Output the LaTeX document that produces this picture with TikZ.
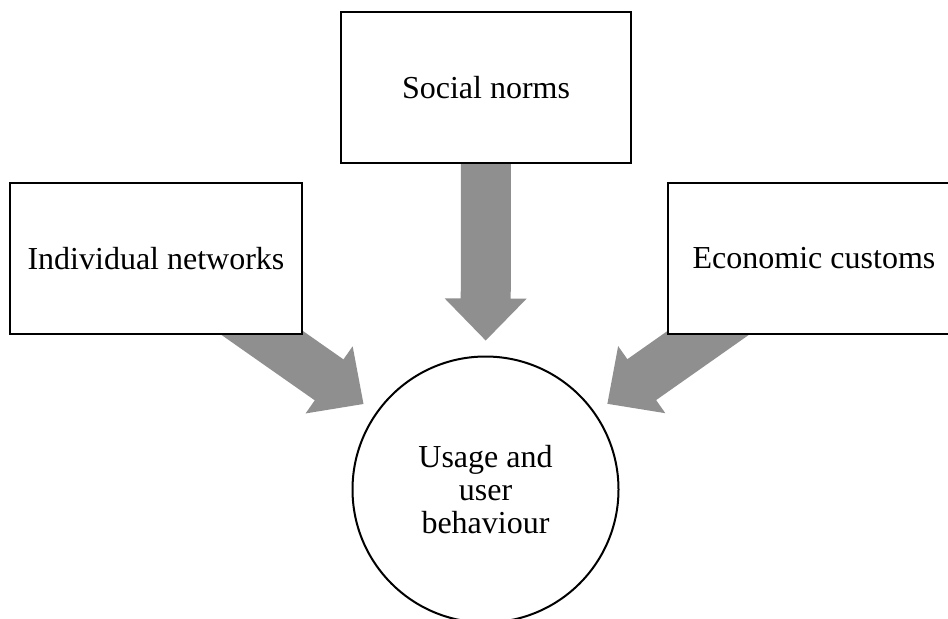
\documentclass[tikz,border=0pt]{standalone}
\usepackage{fontspec}
\setmainfont{Liberation Serif}
\usetikzlibrary{calc}

\definecolor{flowgrey}{RGB}{143,143,143}
\pgfdeclarelayer{back}
\pgfsetlayers{back,main}

\tikzset{
    factor/.style={draw, fill=white, line width=1pt, minimum width=145pt, minimum height=75.5pt},
    outcome/.style={draw, circle, fill=white, line width=1pt, minimum size=133pt, inner sep=0pt, align=center},
    flow/.style={fill=flowgrey}
}

\begin{document}
\begin{tikzpicture}[
                x=0.5pt, y=-0.5pt,
                font=\fontsize{16pt}{16.5pt}\selectfont
            ]

                \useasboundingbox (0, 0) rectangle (948, 618);
                \clip (0, 0) rectangle (948, 618);

                \node[factor] (social) at (486, 87.5) {Social norms};
                \node[factor, minimum width=146pt] (indiv) at (156, 258.5) {Individual networks};
                \node[factor, minimum width=146pt] (econ) at (814, 258.5) {Economic customs};
                \node[outcome] (usage) at (485.5, 489.5) {Usage and\\user\\behaviour};

                % block arrows, behind the boxes
                \begin{pgfonlayer}{back}
                    \foreach \src in {social, indiv, econ} {
                        \coordinate (tip) at ($(usage.center)!74.5pt!(\src.center)$);
                        \coordinate (base) at ($(tip)!21pt!(\src.center)$);
                        \fill[flow] ($(\src.center)!12.5pt!90:(tip)$)
                            -- ($(base)!12.5pt!90:(tip)$) -- ($(base)!20.5pt!90:(tip)$)
                            -- (tip)
                            -- ($(base)!20.5pt!-90:(tip)$) -- ($(base)!12.5pt!-90:(tip)$)
                            -- ($(\src.center)!12.5pt!-90:(tip)$) -- cycle;
                    }
                \end{pgfonlayer}
            \end{tikzpicture}
\end{document}
